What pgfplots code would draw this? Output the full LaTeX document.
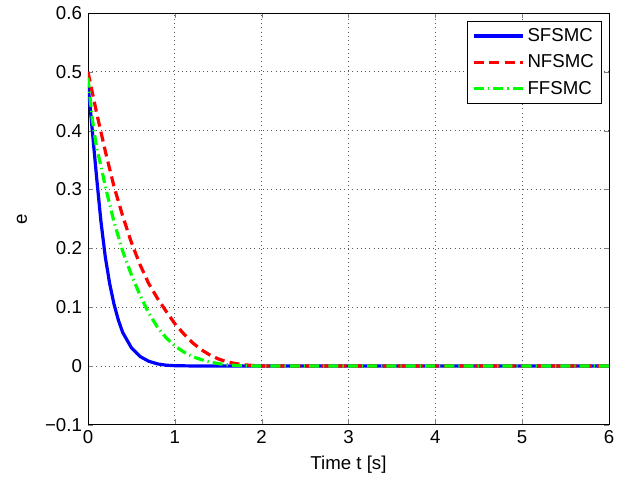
\documentclass[border=0pt]{standalone}
\usepackage{pgfplots}
\pgfplotsset{compat=1.18}
\usepackage{fontspec}
\setmainfont{Liberation Sans}

\begin{document}
\begin{tikzpicture}
\useasboundingbox (-66pt,-42pt) rectangle (406.75pt,318.75pt);
\begin{axis}[
    scale only axis,
    width=391pt, height=309pt,
    at={(0,0)}, anchor=south west,
    xmin=0, xmax=6, ymin=-0.1, ymax=0.6,
    xtick={0,1,...,6},
    ytick={-0.1,0,0.1,0.2,0.3,0.4,0.5,0.6},
    yticklabels={−0.1,0,0.1,0.2,0.3,0.4,0.5,0.6},
    /pgf/number format/assume math mode=true,
    tick label style={font=\fontsize{14}{16}\selectfont},
    xticklabel style={yshift=-1pt},
    yticklabel style={xshift=-1pt},
    every axis x label/.style={at={(axis description cs:0.5,0)}, anchor=center, yshift=-30pt},
    every axis y label/.style={at={(axis description cs:0,0.5)}, anchor=center, xshift=-49.5pt, rotate=90},
    label style={font=\fontsize{14}{16}\selectfont},
    xlabel={Time t [s]},
    ylabel={e},
    tick align=inside,
    major tick length=4pt,
    grid=major,
    major grid style={black!65, dash pattern=on 0.6pt off 2.6pt, line width=0.5pt},
    axis line style={line width=0.6pt},
    legend style={at={(0.987,0.981)}, anchor=north east, draw=black,
        line width=0.6pt, font=\fontsize{14}{16}\selectfont,
        row sep=4.5pt, inner xsep=4pt, inner ysep=3.5pt},
    legend cell align=left,
    legend image code/.code={\draw[#1] (0pt,0pt) -- (37pt,0pt);},
]
\addplot[blue, line width=2.4pt] coordinates {
(0,0.48) (0.05,0.40) (0.1,0.32) (0.15,0.245) (0.2,0.185) (0.25,0.14)
(0.3,0.105) (0.35,0.078) (0.4,0.057) (0.5,0.031) (0.6,0.016) (0.7,0.008)
(0.8,0.0035) (0.9,0.0013) (1.0,0.0004) (1.2,0) (6,0)
};
\addlegendentry{SFSMC}
\addplot[red, line width=2.4pt, dash pattern=on 7.5pt off 4pt] coordinates {
(0,0.50) (0.1,0.43) (0.2,0.365) (0.3,0.305) (0.4,0.255) (0.5,0.21)
(0.6,0.172) (0.7,0.14) (0.8,0.115) (0.9,0.093) (1.0,0.072) (1.1,0.055)
(1.2,0.04) (1.3,0.028) (1.4,0.019) (1.5,0.012) (1.6,0.007) (1.7,0.004)
(1.8,0.002) (1.9,0.0007) (2.0,0) (6,0)
};
\addlegendentry{NFSMC}
\addplot[green, line width=2.4pt, dash pattern=on 7.5pt off 3pt on 1pt off 3pt] coordinates {
(0,0.49) (0.05,0.42) (0.1,0.37) (0.15,0.34) (0.2,0.305) (0.3,0.245)
(0.4,0.195) (0.5,0.155) (0.6,0.12) (0.7,0.09) (0.8,0.066) (0.9,0.048)
(1.0,0.034) (1.1,0.024) (1.2,0.016) (1.3,0.011) (1.4,0.007) (1.5,0.004)
(1.6,0.002) (1.7,0.001) (1.8,0.0003) (1.9,0) (6,0)
};
\addlegendentry{FFSMC}
\end{axis}
\end{tikzpicture}
\end{document}
